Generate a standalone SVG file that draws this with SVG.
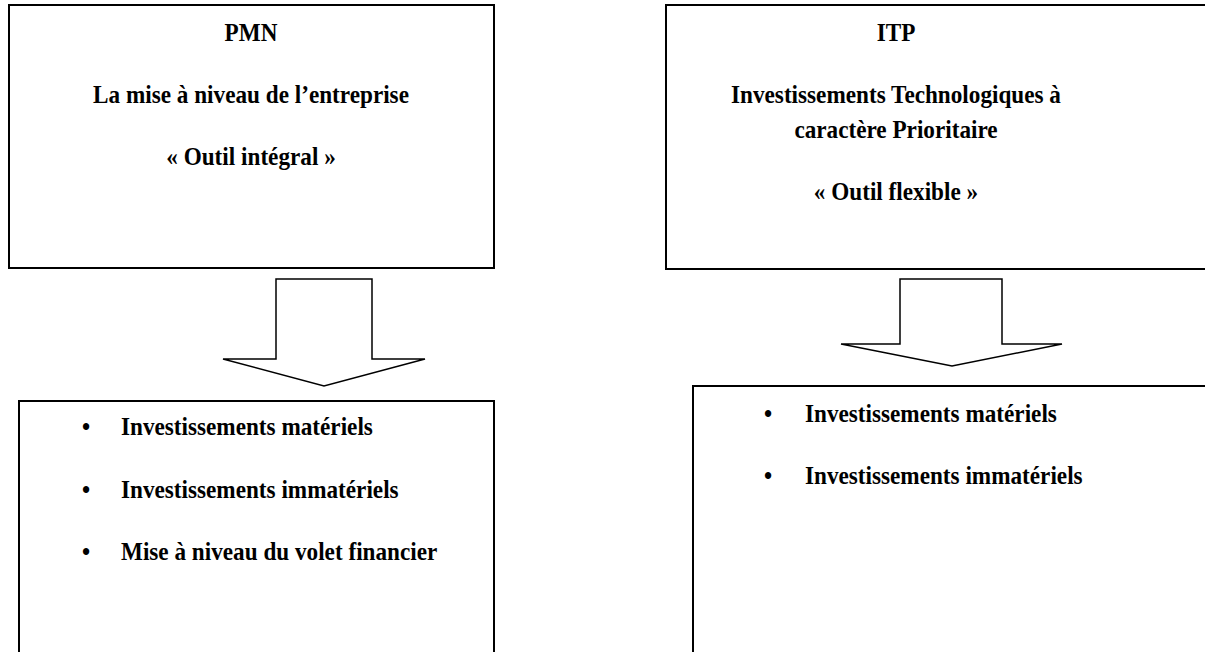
<svg xmlns="http://www.w3.org/2000/svg" width="1205" height="652" viewBox="0 0 1205 652">
<style>
.box{fill:#fff;stroke:#000;stroke-width:2}
.arr{fill:#fff;stroke:#000;stroke-width:1.5;stroke-linejoin:miter}
text{font-family:"Liberation Serif","Times New Roman",serif;font-weight:bold;font-size:23.2px;fill:#000}
.c{text-anchor:middle}
</style>
<rect width="1205" height="652" fill="#fff"/>
<g id="pmn">
<rect class="box" x="9" y="5" width="485" height="263"/>
<text class="c" transform="translate(251,41) scale(1,1.12)">PMN</text>
<text class="c" transform="translate(251,103) scale(1,1.12)">La mise à niveau de l’entreprise</text>
<text class="c" transform="translate(251,165) scale(1,1.12)">« Outil intégral »</text>
</g>
<g id="itp">
<rect class="box" x="666" y="5" width="560" height="264"/>
<text class="c" transform="translate(896,41) scale(1,1.12)">ITP</text>
<text class="c" transform="translate(896,103) scale(1,1.12)">Investissements Technologiques à</text>
<text class="c" transform="translate(896,138) scale(1,1.12)">caractère Prioritaire</text>
<text class="c" transform="translate(896,200) scale(1,1.12)">« Outil flexible »</text>
</g>
<g id="connectors">
<polygon class="arr" points="276,279 372,279 372,359 425,359 324,386 223,359 276,359"/>
<polygon class="arr" points="900,279 1002,279 1002,344 1062,344 952,366 841,344 900,344"/>
</g>
<g id="pmn-list">
<rect class="box" x="19" y="401" width="475" height="270"/>
<text transform="translate(82,435) scale(1,1.12)">•</text><text transform="translate(121,435) scale(1,1.12)">Investissements matériels</text>
<text transform="translate(82,498) scale(1,1.12)">•</text><text transform="translate(121,498) scale(1,1.12)">Investissements immatériels</text>
<text transform="translate(82,560) scale(1,1.12)">•</text><text transform="translate(121,560) scale(1,1.12)">Mise à niveau du volet financier</text>
</g>
<g id="itp-list">
<rect class="box" x="693" y="386" width="530" height="285"/>
<text transform="translate(764,422) scale(1,1.12)">•</text><text transform="translate(805,422) scale(1,1.12)">Investissements matériels</text>
<text transform="translate(764,484) scale(1,1.12)">•</text><text transform="translate(805,484) scale(1,1.12)">Investissements immatériels</text>
</g>
</svg>
